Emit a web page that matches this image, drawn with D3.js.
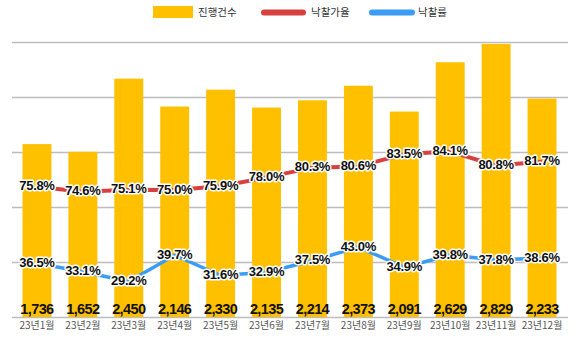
<!DOCTYPE html>
<html><head><meta charset="utf-8">
<script src="https://cdn.jsdelivr.net/npm/d3@7"></script>
<style>
html,body{margin:0;padding:0;background:#fff;}
svg{display:block;}
</style></head>
<body>
<svg id="chart" width="580" height="338"></svg>
<script>
const categories = ["23년1월","23년2월","23년3월","23년4월","23년5월","23년6월","23년7월","23년8월","23년9월","23년10월","23년11월","23년12월"];
const counts = [1736,1652,2450,2146,2330,2135,2214,2373,2091,2629,2829,2233];
const bidRate = [75.8,74.6,75.1,75.0,75.9,78.0,80.3,80.6,83.5,84.1,80.8,81.7];
const winRate = [36.5,33.1,29.2,39.7,31.6,32.9,37.5,43.0,34.9,39.8,37.8,38.6];
const seriesNames = ["진행건수","낙찰가율","낙찰률"];

const svg = d3.select("#chart");
const plotL = 12, plotR = 568, plotT = 42, plotB = 317;

const x = d3.scaleBand().domain(categories).range([14,565]).paddingInner(0.37).paddingOuter(0.185);
const yBar = d3.scaleLinear().domain([-150,2850]).range([plotB, plotT]);
const yRed = d3.scaleLinear().domain([45,110]).range([plotB, plotT]);
const yBlue = d3.scaleLinear().domain([15,125]).range([plotB, plotT]);
const yGrid = d3.scaleLinear().domain([0,5]).range([plotB, plotT]);

// gridlines
const grid = svg.append("g").attr("transform",`translate(${plotL},0)`)
  .call(d3.axisRight(yGrid).ticks(5).tickSize(plotR-plotL).tickFormat(""));
grid.select(".domain").remove();
grid.selectAll("line").attr("stroke","#bdbdbd").attr("stroke-width",1.6);

// bars
svg.append("g").selectAll("rect").data(counts).join("rect")
  .attr("x",(d,i)=>x(categories[i]))
  .attr("width",x.bandwidth())
  .attr("y",d=>yBar(d))
  .attr("height",d=>plotB - yBar(d))
  .attr("fill","#FFC000");

// category labels
const xAxis = svg.append("g").attr("transform",`translate(0,${plotB})`)
  .call(d3.axisBottom(x).tickSize(0).tickPadding(5));
xAxis.select(".domain").remove();
xAxis.selectAll("text").attr("font-family","'Noto Sans CJK KR', sans-serif")
  .attr("font-size",10).attr("fill","#555");

const cx = i => x(categories[i]) + x.bandwidth()/2;

// lines
const lineRed = d3.line().x((d,i)=>cx(i)).y(d=>yRed(d));
const lineBlue = d3.line().x((d,i)=>cx(i)).y(d=>yBlue(d));
svg.append("path").datum(bidRate).attr("d",lineRed)
  .attr("fill","none").attr("stroke","#D6403F").attr("stroke-width",4).attr("stroke-linejoin","round");
svg.append("path").datum(winRate).attr("d",lineBlue)
  .attr("fill","none").attr("stroke","#3A9CF2").attr("stroke-width",3.5).attr("stroke-linejoin","round");

function halo(sel){
  sel.attr("font-family","'Liberation Sans', Arial, sans-serif").attr("font-weight","bold")
    .attr("fill","#111").attr("stroke","#fff").attr("stroke-width",3)
    .attr("stroke-linejoin","round").attr("paint-order","stroke").attr("text-anchor","middle");
}

// bar value labels
svg.append("g").selectAll("text").data(counts).join("text")
  .attr("x",(d,i)=>cx(i)).attr("y",314)
  .attr("font-size",14.5).attr("letter-spacing","-0.6px")
  .text(d=>d3.format(",")(d)).call(halo).attr("stroke-width",0);

// percent labels
svg.append("g").selectAll("text").data(bidRate).join("text")
  .attr("x",(d,i)=>cx(i)).attr("y",d=>yRed(d)-1).attr("dy","0.35em")
  .attr("font-size",13).attr("letter-spacing","-0.3px")
  .text(d=>d.toFixed(1)+"%").call(halo);
svg.append("g").selectAll("text").data(winRate).join("text")
  .attr("x",(d,i)=>cx(i)).attr("y",d=>yBlue(d)-1).attr("dy","0.35em")
  .attr("font-size",13).attr("letter-spacing","-0.3px")
  .text(d=>d.toFixed(1)+"%").call(halo);

// legend
const lg = svg.append("g").attr("font-family","'Noto Sans CJK KR', sans-serif").attr("font-size",10.5).attr("fill","#333");
lg.append("rect").attr("x",153).attr("y",6).attr("width",40).attr("height",12).attr("fill","#FFC000");
lg.append("text").attr("x",198).attr("y",12).attr("dy","0.35em").text(seriesNames[0]);
lg.append("line").attr("x1",264).attr("x2",303).attr("y1",12.5).attr("y2",12.5)
  .attr("stroke","#D6403F").attr("stroke-width",6).attr("stroke-linecap","round");
lg.append("text").attr("x",311).attr("y",12).attr("dy","0.35em").text(seriesNames[1]);
lg.append("line").attr("x1",372).attr("x2",412).attr("y1",12.5).attr("y2",12.5)
  .attr("stroke","#3A9CF2").attr("stroke-width",6).attr("stroke-linecap","round");
lg.append("text").attr("x",418).attr("y",12).attr("dy","0.35em").text(seriesNames[2]);
</script>
</body></html>
